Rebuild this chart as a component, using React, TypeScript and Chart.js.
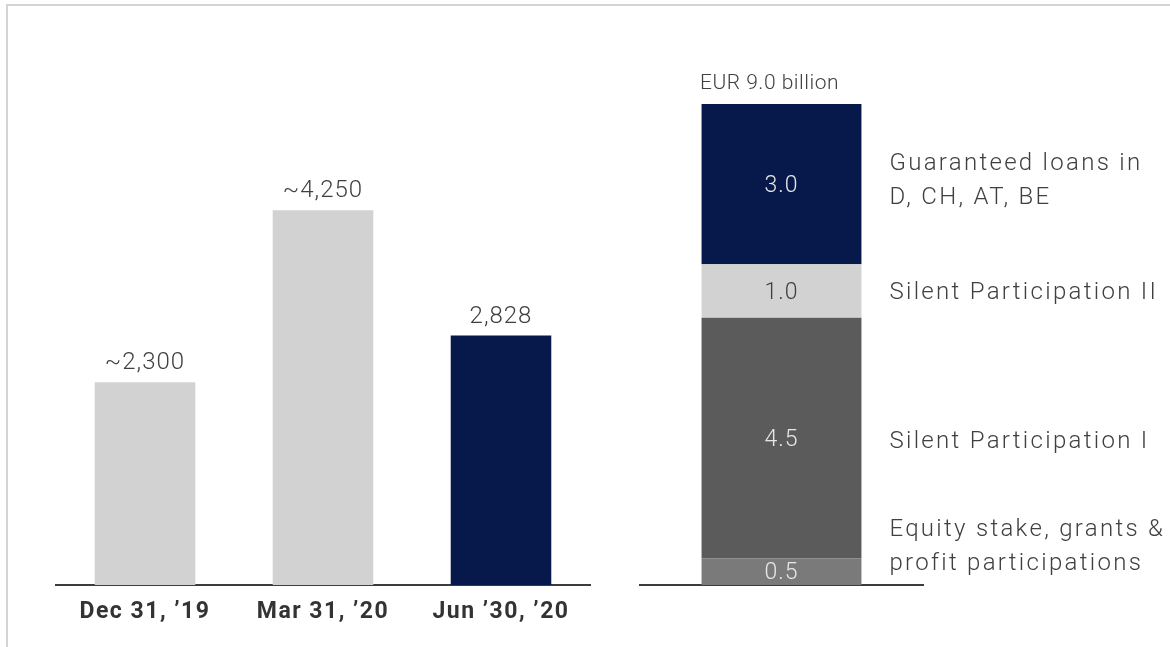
import { useEffect, useRef } from "react";
import { Chart, registerables } from "chart.js";

Chart.register(...registerables);

// ---------- data ----------
const periods = ["Dec 31, ’19", "Mar 31, ’20", "Jun ’30, ’20"];
const liquidity = [2300, 4250, 2828];
const liquidityLabels = ["~2,300", "~4,250", "2,828"];

const stackNames = [
  "Equity stake, grants & profit participations",
  "Silent Participation I",
  "Silent Participation II",
  "Guaranteed loans in D, CH, AT, BE",
];
const stackLines = [
  ["Equity stake, grants &", "profit participations"],
  ["Silent Participation I"],
  ["Silent Participation II"],
  ["Guaranteed loans in", "D, CH, AT, BE"],
];
const stackValues = [0.5, 4.5, 1.0, 3.0];
const stackValueLabels = ["0.5", "4.5", "1.0", "3.0"];
const stackCategory = ["EUR 9.0 billion"];
const stackTotalLabel = "EUR 9.0 billion";

// ---------- styles ----------
const NAVY = "#07184a";
const LIGHT = "#d2d2d2";
const DARK = "#5b5b5b";
const MID = "#7a7a7a";
const TEXT = "#404040";
const AXIS = "#3c3c3c";
const FONT = "Roboto, 'Noto Sans', sans-serif";

const barColors = [LIGHT, LIGHT, NAVY];
const stackColors = [MID, DARK, LIGHT, NAVY];
const stackTextColors = ["#e6e6e6", "#e6e6e6", TEXT, "#e6e6e6"];
const SIDE_LINE_GAP = 34;
const sideOffsets = [-25, 4, 2, -3];

function LeftChart() {
  const ref = useRef<HTMLCanvasElement>(null);
  useEffect(() => {
    const canvas = ref.current!;
    const valuePlugin = {
      id: "valueLabels",
      beforeDraw(chart: any) {
        chart.ctx.letterSpacing = "1.5px";
      },
      afterDatasetsDraw(chart: any) {
        const ctx = chart.ctx;
        const meta = chart.getDatasetMeta(0);
        ctx.save();
        ctx.letterSpacing = "1px";
        ctx.font = `300 24px ${FONT}`;
        ctx.fillStyle = TEXT;
        ctx.textAlign = "center";
        ctx.textBaseline = "alphabetic";
        meta.data.forEach((bar: any, i: number) => {
          ctx.fillText(liquidityLabels[i], bar.x, bar.y - 13);
        });
        ctx.restore();
      },
    };
    const chart = new Chart(canvas, {
      type: "bar",
      data: {
        labels: periods,
        datasets: [
          {
            data: liquidity,
            backgroundColor: barColors,
            borderWidth: 0,
            barPercentage: 0.565,
            categoryPercentage: 1,
          },
        ],
      },
      options: {
        animation: false,
        responsive: false,
        devicePixelRatio: 1,
        layout: { padding: { left: 56, right: 10, top: 144, bottom: 0 } },
        plugins: { legend: { display: false }, tooltip: { enabled: false } },
        scales: {
          x: {
            grid: { display: false, drawTicks: false },
            border: { display: true, color: AXIS, width: 2 },
            ticks: {
              color: "#333333",
              font: { family: FONT, size: 23, weight: "bold" },
              padding: 13,
            },
            afterFit(scale: any) {
              scale.height = 62;
            },
          },
          y: { display: false, min: 0, max: 5000 },
        },
      },
      plugins: [valuePlugin],
    });
    return () => chart.destroy();
  }, []);
  return (
    <canvas
      ref={ref}
      width={600}
      height={647}
      style={{ position: "absolute", left: 0, top: 0, width: 600, height: 647 }}
    />
  );
}

function RightChart() {
  const ref = useRef<HTMLCanvasElement>(null);
  useEffect(() => {
    const canvas = ref.current!;
    const stackPlugin = {
      id: "stackLabels",
      afterDatasetsDraw(chart: any) {
        const ctx = chart.ctx;
        ctx.save();
        ctx.textBaseline = "middle";
        stackValues.forEach((_v, i) => {
          const bar: any = chart.getDatasetMeta(i).data[0];
          const cy = (bar.y + bar.base) / 2;
          // value inside segment
          ctx.letterSpacing = "1px";
          ctx.font = `300 23px ${FONT}`;
          ctx.textAlign = "center";
          ctx.fillStyle = stackTextColors[i];
          ctx.fillText(stackValueLabels[i], bar.x, cy + 2);
          // side label
          ctx.letterSpacing = "2.3px";
          ctx.font = `300 24px ${FONT}`;
          ctx.textAlign = "left";
          ctx.fillStyle = TEXT;
          const lines = stackLines[i];
          const x = bar.x + bar.width / 2 + 28;
          const y0 = cy + sideOffsets[i] - ((lines.length - 1) * SIDE_LINE_GAP) / 2;
          lines.forEach((ln, k) => ctx.fillText(ln, x, y0 + k * SIDE_LINE_GAP));
        });
        const top: any = chart.getDatasetMeta(stackValues.length - 1).data[0];
        ctx.letterSpacing = "0.5px";
        ctx.font = `300 21px ${FONT}`;
        ctx.textAlign = "center";
        ctx.fillStyle = TEXT;
        ctx.fillText(stackTotalLabel, top.x - 12, top.y - 20);
        ctx.restore();
      },
    };
    const chart = new Chart(canvas, {
      type: "bar",
      data: {
        labels: stackCategory,
        datasets: stackValues.map((v, i) => ({
          label: stackNames[i],
          data: [v],
          backgroundColor: stackColors[i],
          borderWidth: 0,
          barPercentage: 0.565,
          categoryPercentage: 1,
        })),
      },
      options: {
        animation: false,
        responsive: false,
        devicePixelRatio: 1,
        layout: { padding: { left: 40, right: 247, top: 104, bottom: 0 } },
        plugins: { legend: { display: false }, tooltip: { enabled: false } },
        scales: {
          x: {
            stacked: true,
            grid: { display: false, drawTicks: false },
            border: { display: true, color: AXIS, width: 2 },
            ticks: { display: false },
            afterFit(scale: any) {
              scale.height = 62;
            },
          },
          y: { stacked: true, display: false, min: 0, max: 9 },
        },
      },
      plugins: [stackPlugin],
    });
    return () => chart.destroy();
  }, []);
  return (
    <canvas
      ref={ref}
      width={570}
      height={647}
      style={{ position: "absolute", left: 600, top: 0, width: 570, height: 647 }}
    />
  );
}

export default function App() {
  return (
    <div
      style={{
        position: "fixed",
        left: 0,
        top: 0,
        width: 1170,
        height: 647,
        background: "#ffffff",
        overflow: "hidden",
      }}
    >
      <div
        style={{
          position: "absolute",
          left: 6,
          top: 4,
          right: 0,
          bottom: 0,
          borderTop: "2px solid #d4d4d4",
          borderLeft: "2px solid #d4d4d4",
        }}
      />
      <LeftChart />
      <RightChart />
    </div>
  );
}
